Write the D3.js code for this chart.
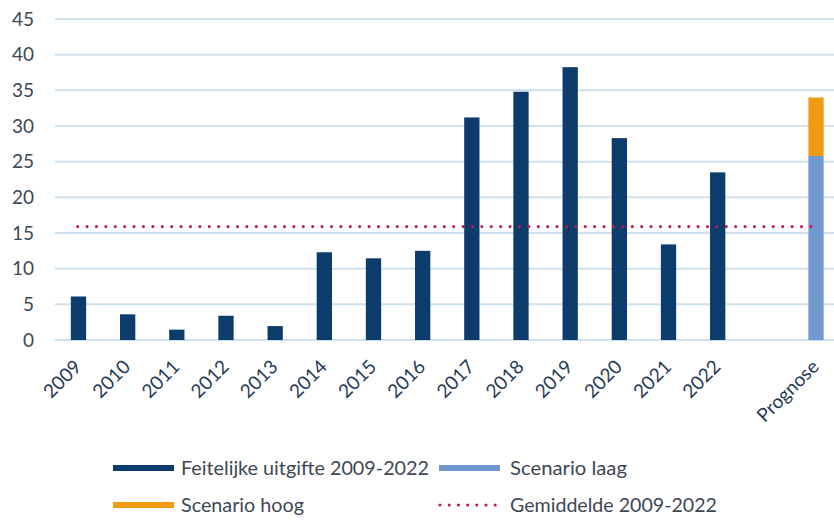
<!DOCTYPE html>
<html><head><meta charset="utf-8">
<script src="https://cdn.jsdelivr.net/npm/d3@7"></script>
<style>body{margin:0;background:#fff}svg{display:block}text{font-family:Lato,"Open Sans",sans-serif}</style>
</head><body><svg id="c" width="834" height="521"></svg>
<script>
const categories = ["2009","2010","2011","2012","2013","2014","2015","2016","2017","2018","2019","2020","2021","2022"," ","Prognose"];
const actual = [6.1,3.6,1.45,3.4,1.95,12.3,11.45,12.5,31.2,34.8,38.25,28.3,13.4,23.5,null,null];
const scenarioLaag = [null,null,null,null,null,null,null,null,null,null,null,null,null,null,null,25.8];
const scenarioHoog = [null,null,null,null,null,null,null,null,null,null,null,null,null,null,null,8.2];
const average = 15.9;
const yTicks = [0,5,10,15,20,25,30,35,40,45];
const legendLabels = ["Feitelijke uitgifte 2009-2022","Scenario laag","Scenario hoog","Gemiddelde 2009-2022"];

const C = {navy:"#0b3c6c", light:"#7299cf", orange:"#f29a12", avg:"#c2185b", grid:"#cfe1ee", text:"#3d4754", xtext:"#1f3957"};
const svg = d3.select("#c");
const x = d3.scaleBand().domain(categories).range([53.9,840.6]).paddingInner(0.689).paddingOuter(0.3445);
const y = d3.scaleLinear().domain([0,45]).range([340,19]);

// gridlines
svg.append("g").selectAll("line").data(yTicks).join("line")
  .attr("x1",55).attr("x2",834).attr("y1",d=>y(d)).attr("y2",d=>y(d))
  .attr("stroke",C.grid).attr("stroke-width",2);

// y axis labels
const ya = svg.append("g").attr("transform","translate(34,0)")
  .call(d3.axisLeft(y).tickValues(yTicks).tickSize(0).tickPadding(0));
ya.select(".domain").remove();
ya.selectAll("text").attr("fill",C.text).style("font-size","19px").style("font-family","Lato,'Open Sans',sans-serif");

// bars
const bars = svg.append("g");
bars.selectAll("rect.a").data(categories.map((c,i)=>({c,v:actual[i]})).filter(d=>d.v!=null)).join("rect")
  .attr("x",d=>x(d.c)).attr("width",x.bandwidth()).attr("y",d=>y(d.v)).attr("height",d=>y(0)-y(d.v)).attr("fill",C.navy);
const stackData = categories.map((c,i)=>({c,laag:scenarioLaag[i],hoog:scenarioHoog[i]})).filter(d=>d.laag!=null);
bars.selectAll("rect.l").data(stackData).join("rect")
  .attr("x",d=>x(d.c)).attr("width",x.bandwidth()).attr("y",d=>y(d.laag)).attr("height",d=>y(0)-y(d.laag)).attr("fill",C.light);
bars.selectAll("rect.h").data(stackData).join("rect")
  .attr("x",d=>x(d.c)).attr("width",x.bandwidth()).attr("y",d=>y(d.laag+d.hoog)).attr("height",d=>y(d.laag)-y(d.laag+d.hoog)).attr("fill",C.orange);

// average line
const cx = c => x(c)+x.bandwidth()/2;
svg.append("line").attr("x1",cx("2009")-0.8).attr("x2",cx("Prognose")).attr("y1",y(average)).attr("y2",y(average))
  .attr("stroke",C.avg).attr("stroke-width",3.1).attr("stroke-linecap","round").attr("stroke-dasharray","0 9.4");

// x axis labels
const xa = svg.append("g").attr("transform","translate(0,340)")
  .call(d3.axisBottom(x).tickSize(0).tickPadding(0));
xa.select(".domain").remove();
xa.selectAll("text").attr("fill",C.xtext).style("font-size","19px").style("font-family","Lato,'Open Sans',sans-serif")
  .attr("text-anchor","end").attr("dy",0).attr("y",0)
  .attr("transform","translate(4,28) rotate(-45)");

// legend
const lg = svg.append("g");
const items = [
  {t:legendLabels[0], type:"rect", col:C.navy, sx:113, tx:181, tw:248, y:468},
  {t:legendLabels[1], type:"rect", col:C.light, sx:439, tx:510, tw:117, y:468},
  {t:legendLabels[2], type:"rect", col:C.orange, sx:113, tx:181, tw:123, y:505},
  {t:legendLabels[3], type:"dots", col:C.avg, sx:440, tx:510, tw:207, y:505}
];
items.forEach(it=>{
  if(it.type==="rect"){
    lg.append("rect").attr("x",it.sx).attr("y",it.y-3).attr("width",61).attr("height",6).attr("fill",it.col);
  } else {
    lg.append("line").attr("x1",it.sx).attr("x2",it.sx+56).attr("y1",it.y).attr("y2",it.y)
      .attr("stroke",it.col).attr("stroke-width",3.1).attr("stroke-linecap","round").attr("stroke-dasharray","0 9.2");
  }
  lg.append("text").attr("x",it.tx).attr("y",it.y).attr("dy","0.35em").attr("fill",C.text)
    .style("font-size","20px").attr("textLength",it.tw).attr("lengthAdjust","spacingAndGlyphs").text(it.t);
});
</script></body></html>
